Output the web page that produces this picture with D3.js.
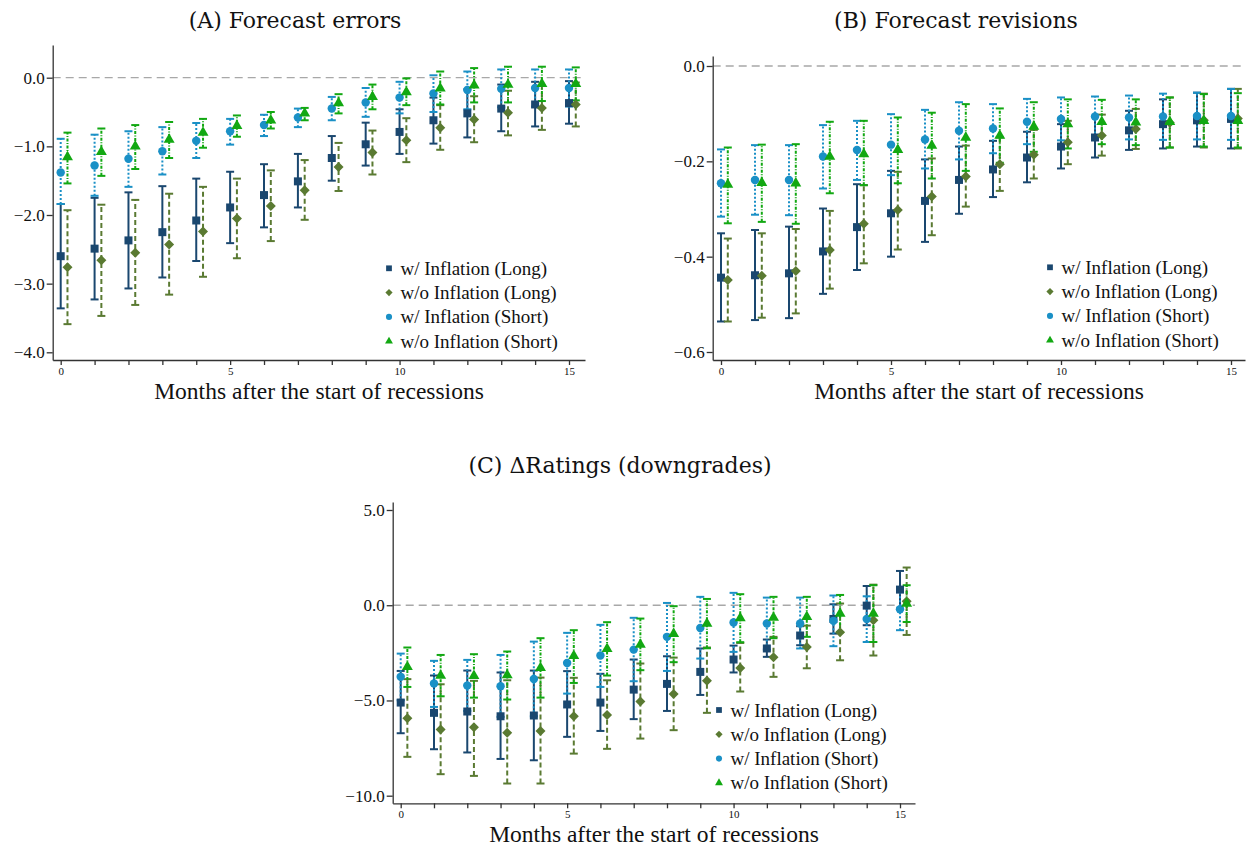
<!DOCTYPE html>
<html><head><meta charset="utf-8">
<script src="https://cdn.jsdelivr.net/npm/d3@7"></script>
<style>body{margin:0;background:#fff}</style>
</head><body>
<script>
// ---------- DATA ----------
const months = [0,1,2,3,4,5,6,7,8,9,10,11,12,13,14,15];
const seriesNames = ["w/ Inflation (Long)","w/o Inflation (Long)","w/ Inflation (Short)","w/o Inflation (Short)"];

// Panel A: Forecast errors
const A_wL     = [-2.60,-2.49,-2.37,-2.25,-2.08,-1.89,-1.71,-1.51,-1.17,-0.97,-0.79,-0.62,-0.52,-0.45,-0.39,-0.37];
const A_wL_lo  = [-3.36,-3.23,-3.07,-2.91,-2.67,-2.41,-2.18,-1.89,-1.50,-1.28,-1.11,-0.96,-0.87,-0.78,-0.71,-0.67];
const A_wL_hi  = [-1.84,-1.75,-1.67,-1.58,-1.47,-1.37,-1.26,-1.11,-0.85,-0.655,-0.46,-0.29,-0.17,-0.10,-0.06,-0.05];
const A_woL    = [-2.76,-2.66,-2.55,-2.43,-2.24,-2.05,-1.87,-1.64,-1.30,-1.09,-0.91,-0.73,-0.61,-0.51,-0.44,-0.39];
const A_woL_lo = [-3.59,-3.47,-3.31,-3.16,-2.90,-2.63,-2.38,-2.07,-1.65,-1.41,-1.23,-1.05,-0.94,-0.84,-0.76,-0.71];
const A_woL_hi = [-1.93,-1.85,-1.78,-1.69,-1.59,-1.47,-1.35,-1.20,-0.95,-0.77,-0.59,-0.40,-0.27,-0.19,-0.12,-0.07];
const A_wS     = [-1.38,-1.28,-1.18,-1.07,-0.92,-0.78,-0.69,-0.58,-0.45,-0.36,-0.29,-0.23,-0.18,-0.16,-0.15,-0.15];
const A_wS_lo  = [-1.84,-1.72,-1.59,-1.41,-1.17,-0.975,-0.85,-0.72,-0.62,-0.57,-0.52,-0.50,-0.46,-0.43,-0.42,-0.42];
const A_wS_hi  = [-0.89,-0.83,-0.78,-0.72,-0.66,-0.60,-0.54,-0.45,-0.28,-0.15,-0.06,0.035,0.09,0.12,0.12,0.12];
const A_woS    = [-1.155,-1.08,-1.00,-0.90,-0.80,-0.70,-0.62,-0.52,-0.37,-0.28,-0.21,-0.155,-0.11,-0.10,-0.09,-0.09];
const A_woS_lo = [-1.54,-1.43,-1.33,-1.17,-1.02,-0.86,-0.74,-0.62,-0.52,-0.46,-0.40,-0.39,-0.36,-0.36,-0.34,-0.33];
const A_woS_hi = [-0.80,-0.74,-0.69,-0.645,-0.60,-0.55,-0.50,-0.44,-0.24,-0.10,-0.01,0.09,0.14,0.16,0.16,0.15];
const A_yticks = [0,-1,-2,-3,-4];

// Panel B: Forecast revisions
const B_wL     = [-0.444,-0.439,-0.435,-0.389,-0.338,-0.309,-0.283,-0.239,-0.217,-0.192,-0.169,-0.150,-0.135,-0.122,-0.114,-0.111];
const B_wL_lo  = [-0.536,-0.533,-0.529,-0.478,-0.428,-0.400,-0.369,-0.310,-0.275,-0.244,-0.215,-0.192,-0.176,-0.173,-0.169,-0.173];
const B_wL_hi  = [-0.351,-0.344,-0.337,-0.299,-0.248,-0.220,-0.196,-0.169,-0.157,-0.138,-0.122,-0.106,-0.094,-0.070,-0.056,-0.048];
const B_woL    = [-0.449,-0.440,-0.430,-0.386,-0.331,-0.302,-0.274,-0.232,-0.206,-0.186,-0.160,-0.146,-0.132,-0.119,-0.114,-0.110];
const B_woL_lo = [-0.536,-0.528,-0.519,-0.467,-0.414,-0.385,-0.355,-0.295,-0.262,-0.236,-0.206,-0.188,-0.174,-0.171,-0.171,-0.173];
const B_woL_hi = [-0.362,-0.351,-0.342,-0.304,-0.250,-0.222,-0.194,-0.167,-0.150,-0.134,-0.115,-0.102,-0.090,-0.066,-0.058,-0.048];
const B_wS     = [-0.246,-0.239,-0.239,-0.190,-0.176,-0.165,-0.154,-0.136,-0.131,-0.117,-0.111,-0.106,-0.108,-0.106,-0.105,-0.105];
const B_wS_lo  = [-0.316,-0.312,-0.313,-0.257,-0.239,-0.229,-0.215,-0.196,-0.183,-0.164,-0.156,-0.150,-0.154,-0.155,-0.154,-0.155];
const B_wS_hi  = [-0.175,-0.166,-0.166,-0.124,-0.115,-0.101,-0.092,-0.076,-0.080,-0.069,-0.066,-0.064,-0.062,-0.058,-0.056,-0.048];
const B_woS    = [-0.249,-0.245,-0.246,-0.190,-0.185,-0.176,-0.167,-0.150,-0.146,-0.127,-0.122,-0.117,-0.118,-0.117,-0.115,-0.115];
const B_woS_lo = [-0.330,-0.327,-0.331,-0.267,-0.250,-0.246,-0.236,-0.220,-0.203,-0.180,-0.173,-0.164,-0.166,-0.171,-0.169,-0.171];
const B_woS_hi = [-0.171,-0.165,-0.164,-0.117,-0.115,-0.108,-0.098,-0.080,-0.089,-0.076,-0.070,-0.071,-0.070,-0.066,-0.059,-0.057];
const B_yticks = [0,-0.2,-0.4,-0.6];

// Panel C: ΔRatings (downgrades)
const C_wL     = [-5.11,-5.65,-5.58,-5.83,-5.79,-5.21,-5.11,-4.43,-4.13,-3.50,-2.85,-2.27,-1.59,-0.72,-0.02,0.82];
const C_wL_lo  = [-6.72,-7.56,-7.73,-8.07,-8.14,-6.91,-6.60,-5.98,-5.55,-4.71,-3.53,-2.71,-2.10,-1.49,-1.05,-0.18];
const C_wL_hi  = [-3.45,-3.69,-3.43,-3.53,-3.43,-3.46,-3.60,-2.85,-2.68,-2.27,-2.12,-1.80,-1.10,0.05,1.01,1.80];
const C_woL    = [-5.93,-6.53,-6.40,-6.70,-6.60,-5.83,-5.76,-5.06,-4.66,-3.97,-3.29,-2.73,-2.19,-1.42,-0.79,0.21];
const C_woL_lo = [-7.96,-8.87,-8.96,-9.36,-9.36,-7.79,-7.54,-7.00,-6.56,-5.65,-4.53,-3.76,-3.31,-2.89,-2.64,-1.56];
const C_woL_hi = [-3.88,-4.15,-3.97,-3.94,-3.80,-3.81,-3.94,-3.06,-2.75,-2.22,-1.98,-1.66,-1.07,0.09,1.08,1.98];
const C_wS     = [-3.76,-4.11,-4.22,-4.25,-3.87,-3.03,-2.64,-2.33,-1.66,-1.19,-0.91,-0.96,-0.96,-0.82,-0.72,-0.21];
const C_wS_lo  = [-4.99,-5.34,-5.55,-5.86,-5.83,-4.64,-4.29,-3.99,-3.45,-2.80,-2.45,-2.33,-2.27,-2.15,-1.93,-1.31];
const C_wS_hi  = [-2.54,-2.92,-2.87,-2.61,-1.91,-1.45,-1.03,-0.66,0.12,0.44,0.65,0.40,0.40,0.51,0.47,0.96];
const C_woS    = [-3.24,-3.69,-3.71,-3.67,-3.29,-2.66,-2.29,-2.07,-1.50,-0.96,-0.67,-0.65,-0.61,-0.44,-0.44,0.09];
const C_woS_lo = [-4.29,-4.78,-4.85,-4.95,-4.85,-4.08,-3.69,-3.41,-2.99,-2.26,-1.94,-1.73,-1.66,-1.42,-1.93,-0.88];
const C_woS_hi = [-2.22,-2.61,-2.57,-2.43,-1.73,-1.31,-0.89,-0.70,-0.05,0.33,0.58,0.44,0.44,0.54,1.05,1.05];
const C_yticks = [5,0,-5,-10];

const titles = ["(A) Forecast errors","(B) Forecast revisions","(C) \u0394Ratings (downgrades)"];
const xTitle = "Months after the start of recessions";

// ---------- STYLE ----------
const styles = [
  {color:"#1a476f", dash:null,        shape:"square",  off:0},
  {color:"#5a7a32", dash:"5,3",       shape:"diamond", off:0.2},
  {color:"#1a90c6", dash:"2,2",       shape:"circle",  off:0},
  {color:"#12a812", dash:"3,1.5,1,1.5", shape:"triangle",off:0.2}
];
const SERIF = "'Liberation Serif','Times New Roman',serif";
const TITLEFONT = "'DejaVu Serif',serif";

const svg = d3.select("body").append("svg").attr("width",1246).attr("height",848);

function markerPath(shape, big){
  const k = big ? 1 : 0.72;
  if (shape==="square") return d3.symbol(d3.symbolSquare, 64*k*k)();
  if (shape==="diamond") return d3.symbol(d3.symbolSquare, 50*k*k)();
  if (shape==="circle") return d3.symbol(d3.symbolCircle, 56*k*k)();
  return d3.symbol(d3.symbolTriangle, 52*k*k)();
}

function drawPanel(cfg){
  const g = svg.append("g");
  const x0 = d3.scaleLinear().domain([0,15]).range(cfg.xr);
  const x = x0.copy().domain([x0.invert(cfg.left), x0.invert(cfg.right)]).range([cfg.left, cfg.right]);
  const y0 = d3.scaleLinear().domain(cfg.ydom).range(cfg.yr);
  const y = y0.copy().domain([y0.invert(cfg.top), y0.invert(cfg.bottom)]).range([cfg.top, cfg.bottom]);

  // zero line
  g.append("line").attr("x1",cfg.left).attr("x2",cfg.right).attr("y1",y(0)).attr("y2",y(0))
    .attr("stroke","#a8a8a8").attr("stroke-width",1.3).attr("stroke-dasharray","8,5");

  // axes
  const ax = g.append("g").attr("transform",`translate(0,${cfg.bottom})`)
    .call(d3.axisBottom(x).tickValues(months).tickFormat(d => d%5===0 ? d : "").tickSize(5).tickSizeOuter(0).tickPadding(2));
  ax.selectAll("text").attr("font-family",SERIF).attr("font-size",11).attr("fill","#111");
  const ay = g.append("g").attr("transform",`translate(${cfg.left},0)`)
    .call(d3.axisLeft(y).tickValues(cfg.yticks).tickFormat(d3.format(".1f")).tickSize(6).tickSizeOuter(0).tickPadding(2));
  ay.selectAll("text").attr("font-family",SERIF).attr("font-size",17).attr("fill","#111");
  [ax,ay].forEach(a=>{a.selectAll("path,line").attr("stroke","#333").attr("stroke-width",1.3);});

  // error bars
  cfg.series.forEach((s,si)=>{
    const st = styles[si];
    const eg = g.append("g");
    months.forEach((m,i)=>{
      const xi = x(m + st.off);
      eg.append("line").attr("x1",xi).attr("x2",xi).attr("y1",y(s.lo[i])).attr("y2",y(s.hi[i]))
        .attr("stroke",st.color).attr("stroke-width",2).attr("stroke-dasharray",st.dash);
      [s.lo[i], s.hi[i]].forEach(v=>{
        eg.append("line").attr("x1",xi-4).attr("x2",xi+4).attr("y1",y(v)).attr("y2",y(v))
          .attr("stroke",st.color).attr("stroke-width",2);
      });
    });
  });
  // markers
  cfg.series.forEach((s,si)=>{
    const st = styles[si];
    g.append("g").selectAll("path").data(months).join("path")
      .attr("d", markerPath(st.shape,true))
      .attr("transform",(m,i)=>`translate(${x(m+st.off)},${y(s.est[i])})${st.shape==="diamond"?" rotate(45)":""}`)
      .attr("fill",st.color);
  });

  // legend
  seriesNames.forEach((name,si)=>{
    const st = styles[si];
    const ly = cfg.legY + si*24.3;
    g.append("path").attr("d", markerPath(st.shape,false))
      .attr("transform",`translate(${cfg.legX},${ly})${st.shape==="diamond"?" rotate(45)":""}`)
      .attr("fill",st.color);
    g.append("text").attr("x",cfg.legX+11.5).attr("y",ly+6.5).text(name)
      .attr("font-family",SERIF).attr("font-size",19).attr("fill","#111");
  });

  // titles
  g.append("text").attr("x",cfg.titleX).attr("y",cfg.titleY).attr("text-anchor","middle")
    .attr("font-family",TITLEFONT).attr("font-size",22).attr("fill","#111").text(cfg.title);
  g.append("text").attr("x",cfg.xtX).attr("y",cfg.xtY).attr("text-anchor","middle")
    .attr("font-family",SERIF).attr("font-size",23.5).attr("fill","#111").text(xTitle);
}

const mk = (e,l,h)=>({est:e,lo:l,hi:h});

drawPanel({title:titles[0], titleX:295, titleY:28, xtX:319, xtY:399,
  xr:[60.7,569], left:52.7, right:585, ydom:[0,-4], yr:[77.7,352.3], top:45, bottom:360,
  yticks:A_yticks, legX:389, legY:268.3,
  series:[mk(A_wL,A_wL_lo,A_wL_hi),mk(A_woL,A_woL_lo,A_woL_hi),mk(A_wS,A_wS_lo,A_wS_hi),mk(A_woS,A_woS_lo,A_woS_hi)]});

drawPanel({title:titles[1], titleX:956, titleY:28, xtX:979, xtY:399,
  xr:[721,1231], left:712.7, right:1245, ydom:[0,-0.6], yr:[66,352], top:56, bottom:360,
  yticks:B_yticks, legX:1050, legY:267.3,
  series:[mk(B_wL,B_wL_lo,B_wL_hi),mk(B_woL,B_woL_lo,B_woL_hi),mk(B_wS,B_wS_lo,B_wS_hi),mk(B_woS,B_woS_lo,B_woS_hi)]});

drawPanel({title:titles[2], titleX:620, titleY:473, xtX:654, xtY:842,
  xr:[400.7,900], left:392.7, right:915, ydom:[5,-10], yr:[510,795.7], top:502, bottom:803.3,
  yticks:C_yticks, legX:719, legY:710,
  series:[mk(C_wL,C_wL_lo,C_wL_hi),mk(C_woL,C_woL_lo,C_woL_hi),mk(C_wS,C_wS_lo,C_wS_hi),mk(C_woS,C_woS_lo,C_woS_hi)]});
</script>
</body></html>
